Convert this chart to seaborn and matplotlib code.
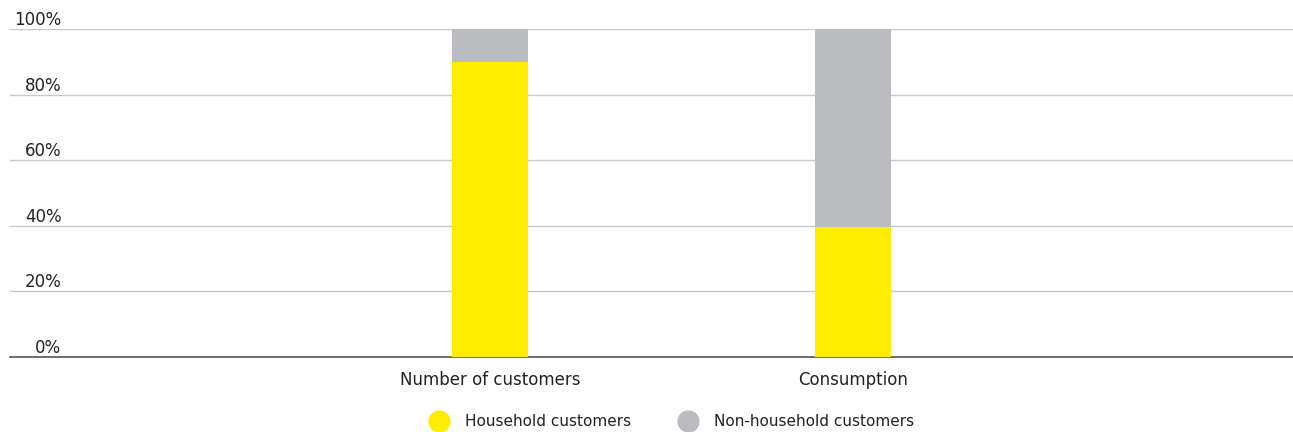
import matplotlib
matplotlib.use("Agg")
import matplotlib.pyplot as plt
from matplotlib.lines import Line2D
import seaborn as sns
import pandas as pd

categories = ["Number of customers", "Consumption"]
household = [90.0, 39.5]
non_household = [10.0, 60.5]
series_names = ["Household customers", "Non-household customers"]
y_ticks = [0, 20, 40, 60, 80, 100]
y_tick_labels = ["0%", "20%", "40%", "60%", "80%", "100%"]

YELLOW = "#FFED00"
GREY = "#BBBCBF"

sns.set_theme(style="white")
plt.rcParams["font.family"] = ["DejaVu Sans"]

df = pd.DataFrame({
    "category": categories,
    "household": household,
    "total": [h + n for h, n in zip(household, non_household)],
})

fig = plt.figure(figsize=(12.93, 4.32), dpi=100)
ax = fig.add_axes([10 / 1293, 1 - 357 / 432, 1 - 10 / 1293, (357 - 29) / 432])

# stacked bars: full height in grey, household share in yellow on top of it
sns.barplot(data=df, x="category", y="total", color=GREY, width=0.21,
            saturation=1, linewidth=0, ax=ax, zorder=3)
sns.barplot(data=df, x="category", y="household", color=YELLOW, width=0.21,
            saturation=1, linewidth=0, ax=ax, zorder=4)

ax.set_xlim(-1.322, 2.212)
ax.set_ylim(0, 100)
ax.set_yticks(y_ticks)
ax.set_yticklabels(y_tick_labels)
ax.yaxis.grid(True, color="#c8c8c8", linewidth=1.0, zorder=0)
ax.set_axisbelow(True)
for s in ["top", "right", "left"]:
    ax.spines[s].set_visible(False)
ax.spines["bottom"].set_color("#555555")
ax.spines["bottom"].set_linewidth(1.2)
ax.set_xlabel("")
ax.set_ylabel("")

ax.tick_params(axis="y", length=0, pad=-37, labelsize=12, labelcolor="#222222")
for lbl in ax.get_yticklabels():
    lbl.set_verticalalignment("bottom")
    lbl.set_y(-0.004)
ax.tick_params(axis="x", length=0, pad=10, labelsize=12, labelcolor="#222222")

handles = [
    Line2D([0], [0], marker="o", linestyle="", markersize=15,
           markerfacecolor=YELLOW, markeredgecolor=YELLOW),
    Line2D([0], [0], marker="o", linestyle="", markersize=15,
           markerfacecolor=GREY, markeredgecolor=GREY),
]
fig.legend(handles, series_names, loc="center", bbox_to_anchor=(669 / 1293, 1 - 422 / 432),
           ncol=2, frameon=False, fontsize=11, handletextpad=0.7, columnspacing=2.7,
           labelcolor="#222222")

fig.savefig("out.png", dpi=100)
